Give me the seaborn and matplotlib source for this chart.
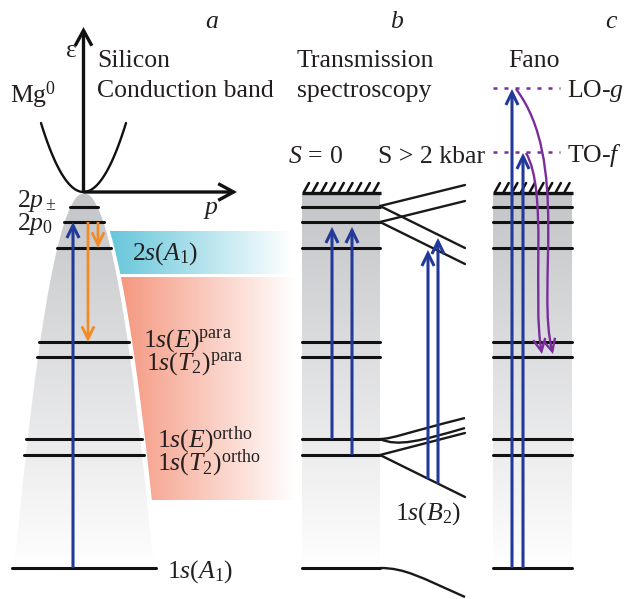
import numpy as np
import pandas as pd
import matplotlib
matplotlib.use("Agg")
import matplotlib.pyplot as plt
import matplotlib.colors as mcolors
import seaborn as sns
from matplotlib.patches import Polygon, FancyArrowPatch, PathPatch
from matplotlib.path import Path

sns.set_theme(style="white")
plt.rcParams['font.family'] = ['Liberation Serif', 'DejaVu Serif']
plt.rcParams['mathtext.fontset'] = 'custom'
plt.rcParams['mathtext.rm'] = 'Liberation Serif'
plt.rcParams['mathtext.it'] = 'Liberation Serif:italic'
plt.rcParams['mathtext.bf'] = 'Liberation Serif:bold'

# ---- level scheme (schematic energy axis, grows downwards) ----
level_keys = ['2p_pm', '2p_0', '2s_A1', '1s_E_para', '1s_T2_para',
              '1s_E_ortho', '1s_T2_ortho', '1s_A1']
level_pos = [207, 222, 248, 342, 357, 439, 455, 568]
level_labels = ['', '', r'$2s(A_1)$', r'$1s(E)^{\mathrm{para}}$',
                r'$1s(T_2)^{\mathrm{para}}$', r'$1s(E)^{\mathrm{ortho}}$',
                r'$1s(T_2)^{\mathrm{ortho}}$', r'$1s(A_1)$']
phonon_names = [r'LO-$g$', r'TO-$f$']
phonon_pos = [88, 152]

BLUE = '#22399a'
ORANGE = '#f28a26'
PURPLE = '#7a2d9c'
FS = 18.5

fig = plt.figure(figsize=(6.29, 5.99), dpi=100)
ax = fig.add_axes([0, 0, 1, 1])

band_edge = 193          # conduction-band bottom
cx = 84                  # centre of the Mg0 level fan in panel a


def half_width(y):
    return 3.7 * np.sqrt(np.clip(np.asarray(y, float) - band_edge, 0, None))


def gradient(extent, c0, c1, horizontal, clip, n=256, power=1.0):
    c0 = np.array(mcolors.to_rgb(c0))
    c1 = np.array(mcolors.to_rgb(c1))
    t = np.linspace(0, 1, n) ** power
    cols = c0[None, :] * (1 - t[:, None]) + c1[None, :] * t[:, None]
    img = cols[None, :, :] if horizontal else cols[:, None, :]
    im = ax.imshow(img, extent=extent, aspect='auto',
                   interpolation='bilinear', zorder=1)
    im.set_clip_path(clip)


# ---- panel a: gray fan of bound states ----
ys = np.linspace(band_edge, 572, 200)
fan = np.vstack([np.column_stack([cx + 0.97 * half_width(ys), ys]),
                 np.column_stack([cx - 0.97 * half_width(ys), ys])[::-1]])
fan_patch = Polygon(fan, closed=True, transform=ax.transData, facecolor='none',
                    edgecolor='none')
ax.add_patch(fan_patch)
gradient([0, 170, 572, band_edge], '#c4c5c8', '#ffffff', False, fan_patch)


# 2s(A1) band (cyan) and 1s manifold band (salmon)
def side_band(y0, y1):
    yy = np.linspace(y0, y1, 60)
    left = np.column_stack([cx + half_width(yy) + 3, yy])
    return np.vstack([left, [[300, y1], [300, y0]]])


cyan_patch = Polygon(side_band(231, 274), closed=True, transform=ax.transData,
                     facecolor='none', edgecolor='none')
ax.add_patch(cyan_patch)
gradient([100, 292, 274, 231], '#5ec3d8', '#ffffff', True, cyan_patch)

salmon_patch = Polygon(side_band(277, 500), closed=True, transform=ax.transData,
                       facecolor='none', edgecolor='none')
ax.add_patch(salmon_patch)
gradient([112, 296, 500, 277], '#f4937a', '#ffffff', True, salmon_patch)

# ---- panels b and c: gray boxes with hatched top ----
boxes = {'b': (302, 380), 'c': (493, 572)}
for x0, x1 in boxes.values():
    box = Polygon([[x0, band_edge], [x1, band_edge], [x1, 570], [x0, 570]],
                  closed=True, transform=ax.transData, facecolor='none',
                  edgecolor='none')
    ax.add_patch(box)
    gradient([x0, x1, 570, band_edge], '#c4c5c8', '#ffffff', False, box)
    ax.plot([x0, x1 + 1], [band_edge, band_edge], color='#111111', lw=2.4,
            solid_capstyle='butt', zorder=4)
    for hx in np.arange(x0 + 2, x1 - 3, 8.7):
        ax.plot([hx, hx + 5], [band_edge - 1, band_edge - 10], color='#111111',
                lw=1.8, zorder=4)

# ---- level lines (seaborn) ----
rows = []
for k, y in zip(level_keys, level_pos):
    w = float(half_width(y))
    rows += [dict(seg=f'a_{k}', x=cx - w, y=y), dict(seg=f'a_{k}', x=cx + w, y=y)]
    for p, (x0, x1) in boxes.items():
        rows += [dict(seg=f'{p}_{k}', x=x0, y=y), dict(seg=f'{p}_{k}', x=x1, y=y)]
levels = pd.DataFrame(rows)
sns.lineplot(data=levels, x='x', y='y', units='seg', estimator=None, sort=False,
             color='#111111', lw=2.2, ax=ax, zorder=5, legend=False)

# ---- panel a: conduction band parabola and axes ----
p = np.linspace(-1, 1, 101)
band = pd.DataFrame({'x': cx - 0.5 + 42.5 * p, 'y': band_edge - 1 - 69 * p ** 2})
sns.lineplot(data=band, x='x', y='y', sort=False, estimator=None,
             color='#111111', lw=1.7, ax=ax, zorder=6)


def arrow(a, b, color, lw=2.2, hl=0.45, hw=0.22, ms=20, z=7, path=None):
    kw = dict(arrowstyle=f'->,head_length={hl},head_width={hw}',
              color=color, lw=lw, mutation_scale=ms, shrinkA=0, shrinkB=0,
              zorder=z, capstyle='butt', joinstyle='miter')
    if path is not None:
        ar = FancyArrowPatch(path=path, **kw)
    else:
        ar = FancyArrowPatch(a, b, **kw)
    ax.add_patch(ar)


def bezier(pts):
    codes = [Path.MOVETO, Path.CURVE4, Path.CURVE4, Path.CURVE4]
    return Path(pts, codes)


arrow((cx - 0.5, band_edge), (cx - 0.5, 27), '#111111', lw=2.4, hl=0.55, hw=0.3)
arrow((cx - 0.5, band_edge - 1), (237, band_edge - 1), '#111111', lw=2.4,
      hl=0.55, hw=0.3)

# transitions in panel a
arrow((73, level_pos[7]), (73, level_pos[1]), BLUE)
arrow((88, level_pos[1]), (88, level_pos[3]), ORANGE, lw=2.0)
arrow((98, level_pos[1]), (98, level_pos[2]), ORANGE, lw=2.0)

# ---- panel b: uniaxial stress splitting ----
split_color = '#1a1a1a'
xb1 = boxes['b'][1]
for (y0, y1) in [(206, 185), (206, 248), (222, 201), (222, 264),
                 (455, 433), (455, 497)]:
    ax.plot([xb1, 465], [y0, y1], color=split_color, lw=1.7, zorder=5)

for pts in [[(xb1, 439), (392, 439), (405, 433), (465, 418)],
            [(xb1, 439), (398, 447), (420, 441), (465, 428)],
            [(xb1, 568), (405, 568), (420, 577), (465, 597)]]:
    ax.add_patch(PathPatch(bezier(pts), facecolor='none',
                           edgecolor=split_color, lw=1.7, zorder=5))

arrow((332, level_pos[5]), (332, 227), BLUE)
arrow((352, level_pos[6]), (352, 227), BLUE)
arrow((428, 479), (428, 250), BLUE)
arrow((438, 484), (438, 238), BLUE)

# ---- panel c: Fano resonances ----
for y in phonon_pos:
    ax.plot([493, 560], [y, y], color=PURPLE, lw=1.8, ls=(0, (1.6, 2.8)),
            zorder=5)
arrow((512, level_pos[7]), (512, phonon_pos[0] + 1), BLUE)
arrow((523, level_pos[7]), (523, phonon_pos[1] + 1), BLUE)
arrow(None, None, PURPLE, lw=1.7, z=8,
      path=bezier([(516, 89), (570, 160), (536, 290), (553, 354)]))
arrow(None, None, PURPLE, lw=1.7, z=8,
      path=bezier([(526, 153), (548, 190), (532, 300), (542, 354)]))


# ---- text ----
def txt(x, y, s, **kw):
    ax.text(x, y, s, fontsize=kw.pop('fs', FS), color='#231f20', ha='left',
            va='baseline', zorder=10, **kw)


txt(205, 28, r'$a$')
txt(390, 28, r'$b$')
txt(605, 28, r'$c$')
txt(66, 57, 'ε')
txt(97, 67, 'Silicon')
txt(97, 97, 'Conduction band')
txt(10, 103, r'$\mathrm{Mg}^0$')
txt(203, 214, r'$p$')
txt(17, 207, r'$2p_\pm$')
txt(17, 230, r'$2p_0$')
txt(297, 67, 'Transmission')
txt(297, 97, 'spectroscopy')
txt(508, 67, 'Fano')
txt(288, 163, r'$S\,=\,0$')
txt(378, 163, 'S > 2 kbar')
txt(567, 97, phonon_names[0])
txt(567, 162, phonon_names[1])
txt(395, 520, r'$1s(B_2)$')

label_x = [None, None, 132, 143, 146, 157, 157, 167]
label_base = [None, None, 260, 347, 370, 447, 470, 578]
for lab, lx, lb in zip(level_labels, label_x, label_base):
    if lab:
        txt(lx, lb, lab)

ax.set_xlim(0, 629)
ax.set_ylim(599, 0)
ax.axis('off')
fig.savefig('out.png', dpi=100)
